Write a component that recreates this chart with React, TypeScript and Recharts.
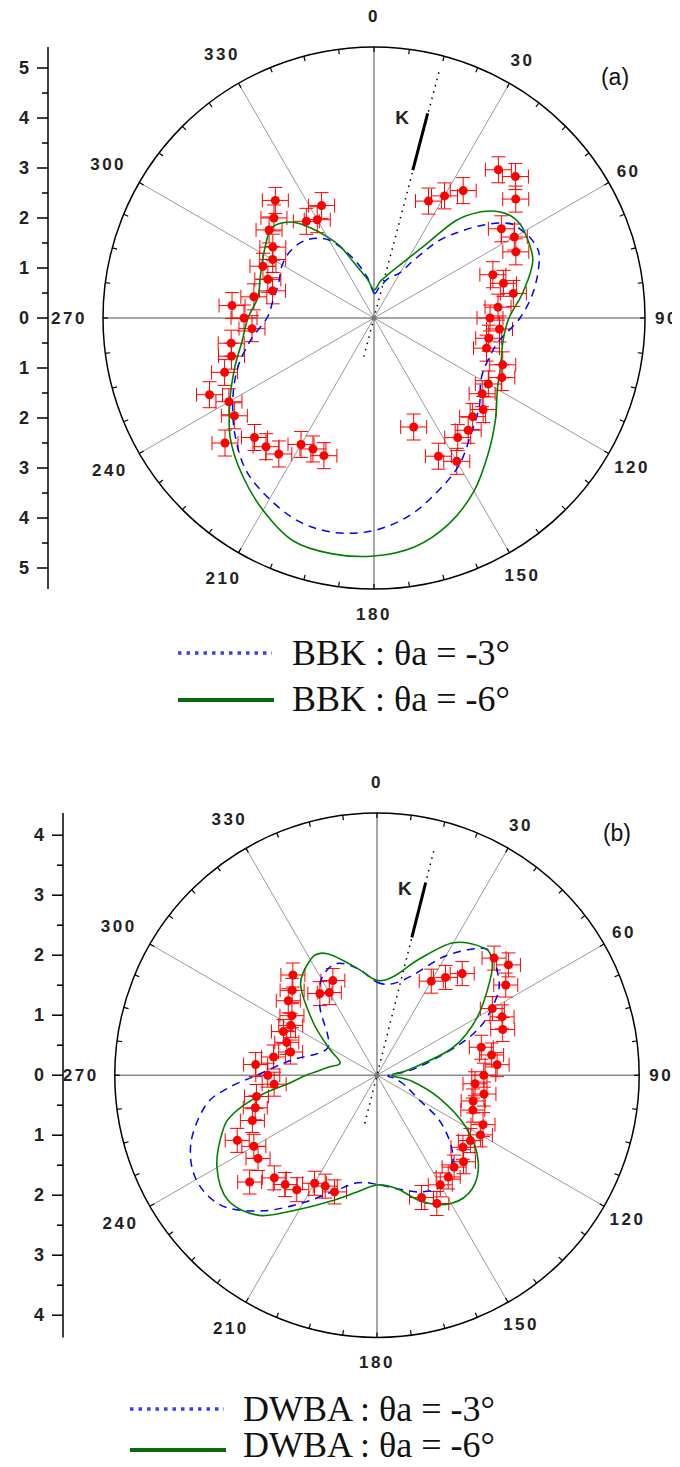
import React from 'react';
import { ScatterChart, Scatter, XAxis, YAxis, ReferenceLine, ReferenceDot, ErrorBar } from 'recharts';

// ---- panel (a): BBK ----
const expAnglesA = [25, 30, 35, 40, 45, 50, 55, 60, 65, 70, 75, 80, 85, 90, 95, 100, 105, 110, 115, 120, 125, 130, 135, 140, 145, 150, 155, 160,
  200, 205, 210, 215, 220, 225, 230, 235, 240, 245, 250, 255, 260, 265, 270, 275, 280, 285, 290, 295, 300, 305, 310, 315, 320, 325, 330, 335];
const expValuesA = [2.58, 2.82, 3.11, 3.87, 4.0, 3.7, 3.11, 3.24, 3.13, 2.53, 2.68, 2.83, 2.49, 2.32, 2.52, 2.33, 2.33, 2.74, 2.82, 2.64, 2.64, 2.85, 2.79, 2.93, 2.92, 3.31, 3.05, 2.32,
  2.93, 2.89, 2.92, 3.32, 3.36, 3.38, 3.89, 3.41, 3.35, 3.63, 3.18, 2.95, 2.9, 2.45, 2.6, 2.85, 2.44, 2.1, 2.26, 2.45, 2.34, 2.47, 2.74, 2.83, 3.07, 2.36, 2.27, 2.48];

const bbk3Angles = [0, 10, 20, 30, 35, 40, 45, 50, 55, 60, 65, 70, 80, 90, 100, 110, 120, 130, 140, 150, 160, 170, 180, 190, 200, 210, 220, 230, 240, 250, 260, 270, 280, 290, 300, 310, 320, 330, 340, 350];
const bbk3Values = [0.5, 0.62, 0.85, 1.05, 1.45, 2.02, 2.45, 2.9, 3.3, 3.45, 3.54, 3.52, 3.25, 2.92, 2.55, 2.43, 2.47, 2.75, 3.02, 3.4, 3.7, 4.02, 4.25, 4.36, 4.34, 4.18, 3.98, 3.63, 3.26, 2.9, 2.5, 2.14, 2.05, 2.03, 2.12, 2.14, 2.05, 1.8, 1.3, 0.85];

const bbk6Angles = [0, 10, 20, 30, 35, 40, 45, 50, 55, 60, 70, 80, 90, 100, 110, 120, 130, 140, 150, 160, 170, 180, 190, 200, 210, 220, 230, 240, 250, 260, 270, 280, 290, 300, 310, 315, 320, 325, 330, 335, 340, 350];
const bbk6Values = [0.56, 0.75, 0.97, 1.38, 1.78, 2.54, 3.0, 3.3, 3.45, 3.47, 3.38, 3.03, 2.7, 2.62, 2.7, 2.85, 3.17, 3.55, 4.0, 4.38, 4.65, 4.76, 4.79, 4.74, 4.44, 4.1, 3.75, 3.33, 2.97, 2.68, 2.52, 2.36, 2.42, 2.55, 2.72, 2.67, 2.5, 2.2, 1.88, 1.57, 1.18, 0.8];

// ---- panel (b): DWBA ----
const expAnglesB = [30, 35, 40, 45, 50, 55, 60, 65, 70, 75, 80, 85, 90, 95, 100, 105, 110, 115, 120, 125, 130, 135, 140, 145, 150, 155, 160,
  200, 205, 210, 215, 220, 225, 230, 235, 240, 245, 250, 255, 260, 265, 270, 275, 280, 285, 290, 295, 300, 305, 310, 315, 320, 325, 330, 335];
const expValuesB = [1.81, 1.99, 2.21, 2.76, 2.86, 2.62, 2.22, 2.3, 2.23, 1.8, 1.94, 2.01, 1.78, 1.64, 1.81, 1.66, 1.7, 1.95, 1.99, 1.9, 1.87, 2.04, 2.0, 2.07, 2.11, 2.36, 2.17,
  2.07, 2.04, 2.08, 2.33, 2.38, 2.42, 2.77, 2.42, 2.37, 2.57, 2.21, 2.1, 2.04, 1.72, 1.82, 2.03, 1.75, 1.49, 1.6, 1.72, 1.66, 1.73, 1.93, 2.0, 2.18, 1.66, 1.59, 1.74];

const dwba3Angles = [0, 10, 20, 30, 40, 45, 50, 55, 60, 65, 70, 80, 90, 100, 110, 120, 125, 130, 135, 140, 150, 160, 170, 180, 190, 200, 210, 220, 230, 240, 250, 260, 265, 270, 280, 290, 300, 310, 320, 330, 340, 350];
const dwba3Values = [1.55, 1.55, 1.78, 2.3, 2.76, 2.75, 2.63, 2.48, 2.2, 1.89, 1.42, 0.65, 0.2, 0.3, 0.5, 0.8, 1.22, 1.52, 1.77, 1.95, 2.14, 2.07, 1.92, 1.82, 1.82, 2.05, 2.45, 2.95, 3.38, 3.48, 3.3, 2.9, 2.5, 2.0, 1.45, 1.05, 0.94, 1.08, 1.48, 1.85, 1.98, 1.8];

const dwba6Angles = [0, 10, 20, 30, 40, 45, 50, 60, 70, 80, 90, 100, 110, 120, 130, 140, 150, 160, 170, 180, 190, 200, 210, 220, 230, 240, 250, 255, 260, 265, 270, 280, 289, 300, 310, 320, 330, 335, 340, 350];
const dwba6Values = [1.58, 1.68, 2.06, 2.55, 2.77, 2.71, 2.46, 1.93, 1.35, 0.55, 0.25, 0.6, 1.1, 1.7, 2.2, 2.47, 2.47, 2.25, 1.92, 1.83, 1.98, 2.23, 2.58, 3.05, 3.24, 3.08, 2.74, 2.48, 2.0, 1.45, 1.18, 0.8, 0.65, 0.94, 1.4, 1.98, 2.22, 2.24, 2.12, 1.8];

const spokeAngles = [0, 30, 60, 90, 120, 150, 180, 210, 240, 270, 300, 330];
const labelGap = [31, 26, 23, 22, 27, 26, 25, 30, 34, 34, 36, 33];
const ticksA = [-5, -4.5, -4, -3.5, -3, -2.5, -2, -1.5, -1, -0.5, 0, 0.5, 1, 1.5, 2, 2.5, 3, 3.5, 4, 4.5, 5];
const ticksB = [-4, -3.5, -3, -2.5, -2, -1.5, -1, -0.5, 0, 0.5, 1, 1.5, 2, 2.5, 3, 3.5, 4];
const rimTicks = Array.from({ length: 48 }, (_, i) => i * 7.5);

const pol = (a: number, r: number) => ({ x: r * Math.sin((a * Math.PI) / 180), y: r * Math.cos((a * Math.PI) / 180) });
const toPts = (angles: number[], values: number[]) => angles.map((a, i) => pol(a, values[i]));
const toExp = (angles: number[], values: number[], e: number) => angles.map((a, i) => ({ ...pol(a, values[i]), e }));

const SANS = '"Liberation Sans", Arial, sans-serif';
const SERIF = '"Liberation Serif", "Times New Roman", serif';
const W = 672;

// closed catmull-rom through the points the Scatter hands us
const smoothLine = (stroke: string, width: number, dash?: string) => (props: any) => {
  const pts: { x: number; y: number }[] = props.points || [];
  const n = pts.length;
  if (n < 3) return <g />;
  let d = `M${pts[0].x},${pts[0].y}`;
  for (let i = 0; i < n; i++) {
    const p0 = pts[(i - 1 + n) % n];
    const p1 = pts[i];
    const p2 = pts[(i + 1) % n];
    const p3 = pts[(i + 2) % n];
    d += `C${p1.x + (p2.x - p0.x) / 6},${p1.y + (p2.y - p0.y) / 6} ${p2.x - (p3.x - p1.x) / 6},${p2.y - (p3.y - p1.y) / 6} ${p2.x},${p2.y}`;
  }
  return <path d={d + 'Z'} fill="none" stroke={stroke} strokeWidth={width} strokeDasharray={dash} />;
};

const AxisTick = (t: any) => {
  const v = t.payload.value;
  const major = Number.isInteger(v);
  return (
    <g>
      <line x1={t.x - (major ? 11 : 6)} x2={t.x} y1={t.y} y2={t.y} stroke="#000" strokeWidth={1.5} />
      {major && (
        <text x={t.x - 19} y={t.y} textAnchor="end" dominantBaseline="central" fontFamily={SANS} fontWeight="bold" fontSize={18} fill="#222">
          {Math.abs(v)}
        </text>
      )}
    </g>
  );
};

const Empty = () => <g />;

interface PanelCfg {
  px: number;
  rMax: number;
  left: number;
  axisW: number;
  top: number;
  height: number;
  ticks: number[];
  exp: { x: number; y: number; e: number }[];
  blue: { x: number; y: number }[];
  green: { x: number; y: number }[];
  kDots: [number, number, number];
  kBar: [number, number, number];
  kLabel: [number, number];
  tag: string;
  tagPos: [number, number];
}

const PolarPanel = ({ c }: { c: PanelCfg }) => {
  const R = c.rMax;
  const plotW = (c.left + R) * c.px;
  const plotH = 2 * R * c.px;
  const margin = { top: c.top, right: W - c.axisW - plotW, bottom: c.height - c.top - plotH, left: 0 };
  const u = (p: number) => p / c.px;
  const kl = pol(c.kLabel[0], c.kLabel[1]);
  return (
    <ScatterChart width={W} height={c.height} margin={margin}>
      <XAxis type="number" dataKey="x" domain={[-c.left, R]} hide allowDataOverflow />
      <YAxis
        type="number"
        dataKey="y"
        domain={[-R, R]}
        ticks={c.ticks}
        interval={0}
        width={c.axisW}
        tickSize={0}
        tickMargin={0}
        tickLine={false}
        axisLine={{ stroke: '#000', strokeWidth: 1.5 }}
        tick={(t: any) => <AxisTick {...t} />}
        allowDataOverflow
      />
      {spokeAngles.map((a) => (
        <ReferenceLine
          key={'s' + a}
          segment={[{ x: 0, y: 0 }, pol(a, R)]}
          stroke={a % 90 === 0 ? '#8a8a8a' : '#9a9a9a'}
          strokeWidth={a % 90 === 0 ? 1.5 : 1}
          ifOverflow="visible"
        />
      ))}
      {rimTicks.map((a) => (
        <ReferenceLine key={'t' + a} segment={[pol(a, R), pol(a, R - u(5))]} stroke="#000" strokeWidth={1.2} ifOverflow="visible" />
      ))}
      <ReferenceDot x={0} y={0} r={R * c.px} fill="none" stroke="#000" strokeWidth={1.5} ifOverflow="visible" />
      <ReferenceDot x={0} y={0} r={2.5} fill="#777" stroke="none" ifOverflow="visible" />
      {spokeAngles.map((a, i) => {
        const q = pol(a, R + u(labelGap[i]));
        return (
          <ReferenceDot
            key={'l' + a}
            x={q.x}
            y={q.y}
            r={0}
            ifOverflow="visible"
            shape={(s: any) => (
              <text x={s.cx} y={s.cy} textAnchor="middle" dominantBaseline="central" fontFamily={SANS} fontWeight="bold" fontSize={17} letterSpacing={2.5} fill="#222">
                {a}
              </text>
            )}
          />
        );
      })}
      <ReferenceLine
        segment={[pol(c.kDots[0] + 180, c.kDots[1]), pol(c.kDots[0], c.kDots[2])]}
        stroke="#000"
        strokeWidth={1.5}
        strokeDasharray="1.5 5"
        ifOverflow="visible"
      />
      <ReferenceLine segment={[pol(c.kBar[0], c.kBar[1]), pol(c.kBar[0], c.kBar[2])]} stroke="#000" strokeWidth={3} ifOverflow="visible" />
      <ReferenceDot
        x={kl.x}
        y={kl.y}
        r={0}
        ifOverflow="visible"
        shape={(s: any) => (
          <text x={s.cx} y={s.cy} textAnchor="middle" dominantBaseline="central" fontFamily={SANS} fontWeight="bold" fontSize={19} fill="#222">
            K
          </text>
        )}
      />
      <ReferenceDot
        x={c.tagPos[0]}
        y={c.tagPos[1]}
        r={0}
        ifOverflow="visible"
        shape={(s: any) => (
          <text x={s.cx} y={s.cy} textAnchor="middle" dominantBaseline="central" fontFamily={SANS} fontSize={23} fill="#111">
            {c.tag}
          </text>
        )}
      />
      <Scatter data={c.blue} line={smoothLine('#0000ff', 1.5, '8 6')} shape={Empty} isAnimationActive={false} />
      <Scatter data={c.green} line={smoothLine('#008000', 1.6)} shape={Empty} isAnimationActive={false} />
      <Scatter data={c.exp} fill="#ff0000" isAnimationActive={false}>
        <ErrorBar dataKey="e" direction="x" stroke="#ff0000" width={7} strokeWidth={1} isAnimationActive={false} />
        <ErrorBar dataKey="e" direction="y" stroke="#ff0000" width={7} strokeWidth={1} isAnimationActive={false} />
      </Scatter>
    </ScatterChart>
  );
};

const LegendBox = ({ top, h, lineX, textX, rows }: { top: number; h: number; lineX: number; textX: number; rows: { y: number; ty: number; label: string; dotted: boolean }[] }) => (
  <svg width={W} height={h} style={{ position: 'absolute', left: 0, top }}>
    {rows.map((r) => (
      <g key={r.label}>
        {r.dotted ? (
          <line x1={lineX} x2={lineX + 94} y1={r.y} y2={r.y} stroke="#3b3bff" strokeWidth={3.5} strokeDasharray="3.5 5" />
        ) : (
          <line x1={lineX} x2={lineX + 96} y1={r.y} y2={r.y} stroke="#0a6a0a" strokeWidth={4} />
        )}
        <text x={textX} y={r.ty} fontFamily={SERIF} fontSize={36} fill="#111">
          {r.label}
        </text>
      </g>
    ))}
  </svg>
);

const panelA: PanelCfg = {
  px: 50,
  rMax: 5.42,
  left: 6.52,
  axisW: 40,
  top: 39,
  height: 620,
  ticks: ticksA,
  exp: toExp(expAnglesA, expValuesA, 0.26),
  blue: toPts(bbk3Angles, bbk3Values),
  green: toPts(bbk6Angles, bbk6Values),
  kDots: [14.8, 0.8, 5.09],
  kBar: [14.7, 3.06, 4.23],
  kLabel: [8.0, 4.04],
  tag: '(a)',
  tagPos: [4.82, 4.82],
};

const panelB: PanelCfg = {
  px: 60,
  rMax: 4.37,
  left: 5.233,
  axisW: 55,
  top: 53,
  height: 620,
  ticks: ticksB,
  exp: toExp(expAnglesB, expValuesB, 0.2),
  blue: toPts(dwba3Angles, dwba3Values),
  green: toPts(dwba6Angles, dwba6Values),
  kDots: [14.2, 0.83, 3.88],
  kBar: [14.2, 2.37, 3.31],
  kLabel: [8.5, 3.15],
  tag: '(b)',
  tagPos: [4.0, 4.03],
};

export default function App() {
  // the last legend box reaches the bottom edge of the window; scrollbars are switched off
  return (
    <div style={{ position: 'relative', width: W, height: 1451, background: '#fff' }}>
      <style>{'html, body { overflow: hidden; }'}</style>
      <div style={{ position: 'absolute', left: 0, top: 0 }}>
        <PolarPanel c={panelA} />
      </div>
      <LegendBox
        top={600}
        h={120}
        lineX={170}
        textX={284}
        rows={[
          { y: 45, ty: 57, label: 'BBK : θa = -3°', dotted: true },
          { y: 92, ty: 103, label: 'BBK : θa = -6°', dotted: false },
        ]}
      />
      <div style={{ position: 'absolute', left: 0, top: 752 }}>
        <PolarPanel c={panelB} />
      </div>
      <LegendBox
        top={1350}
        h={109}
        lineX={122}
        textX={235}
        rows={[
          { y: 51, ty: 63, label: 'DWBA : θa = -3°', dotted: true },
          { y: 92, ty: 99, label: 'DWBA : θa = -6°', dotted: false },
        ]}
      />
    </div>
  );
}
